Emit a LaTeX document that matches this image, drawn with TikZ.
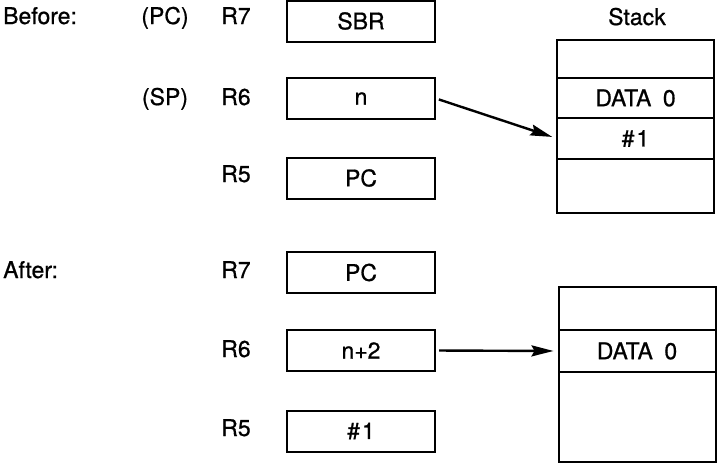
\documentclass[tikz,border=0pt]{standalone}
\usepackage{fontspec}
\setmainfont{TeX Gyre Heros}[FakeBold=0.8]
\usetikzlibrary{arrows.meta,positioning}

\begin{document}
\begin{tikzpicture}[
  x=1pt,y=-1pt,
  node distance=0pt,
  txt/.style={inner sep=0pt,anchor=base,font=\fontsize{23}{27}\selectfont},
  reg/.style={draw,line width=2pt,minimum width=148pt,minimum height=41pt,inner sep=0pt,font=\fontsize{23}{27}\selectfont},
  cell/.style={draw,line width=2pt,minimum width=157pt,inner sep=0pt,outer sep=0pt,font=\fontsize{23}{27}\selectfont},
  ptr/.style={-{Stealth[length=22pt,width=11pt,inset=3pt]},line width=2.4pt,shorten <=3pt,shorten >=5pt}
]
\useasboundingbox (0,0) rectangle (717,464);
% before
\node[txt,anchor=base west] (before) at (3,24) {Before:};
\node[txt] (pc) at (165,24) {(PC)};
\node[txt] (r7b) at (236,24) {R7};
\node[txt] (sp) at (165,105) {(SP)};
\node[txt] (r6b) at (236,105) {R6};
\node[txt] (r5b) at (236,182) {R5};
\node[reg] (b7) at (361,21) {SBR};
\node[reg] (b6) at (361,98.5) {n};
\node[reg] (b5) at (361,178) {PC};
\node[txt] (stack) at (637,25) {Stack};
\node[cell,minimum height=38pt] (s1) at (635.5,59) {};
\node[cell,minimum height=40pt,below=of s1] (s2) {DATA\enspace 0};
\node[cell,minimum height=41pt,below=of s2] (s3) {\#\kern2pt 1};
\node[cell,minimum height=54pt,below=of s3] (s4) {};
\draw[ptr] (b6.east) -- (s3.west);
% after
\node[txt,anchor=base west] (after) at (3,278) {After:};
\node[txt] (r7a) at (236,278) {R7};
\node[txt] (r6a) at (236,357) {R6};
\node[txt] (r5a) at (236,436) {R5};
\node[reg] (a7) at (361,272.5) {PC};
\node[reg] (a6) at (361,350.5) {n+2};
\node[reg] (a5) at (361,431) {\#\kern2pt 1};
\node[cell,minimum height=43pt] (t1) at (637,308.5) {};
\node[cell,minimum height=42pt,below=of t1] (t2) {DATA\enspace 0};
\node[cell,minimum height=90pt,below=of t2] (t3) {};
\draw[ptr] (a6.east) -- (t2.west);
\end{tikzpicture}
\end{document}
